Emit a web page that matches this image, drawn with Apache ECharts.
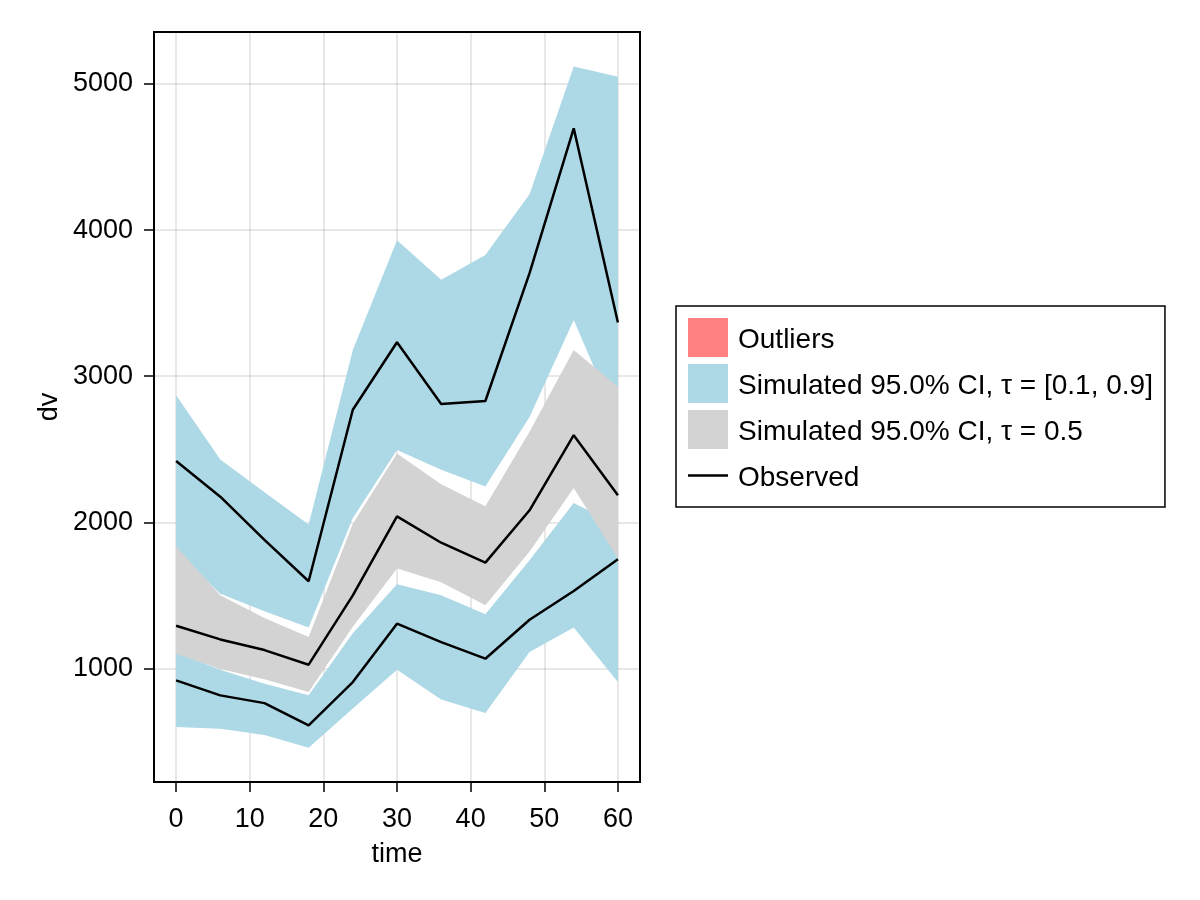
<!DOCTYPE html>
<html>
<head>
<meta charset="utf-8">
<script src="https://cdn.jsdelivr.net/npm/echarts@6/dist/echarts.min.js"></script>
<style>html,body{margin:0;padding:0;background:#fff;}#c{width:1200px;height:900px;}</style>
</head>
<body>
<div id="c"></div>
<script>
// ---- data ----
const times = [0, 6, 12, 18, 24, 30, 36, 42, 48, 54, 60];
const xTicks = [0, 10, 20, 30, 40, 50, 60];
const yTicks = [1000, 2000, 3000, 4000, 5000];

// simulated 95% CI of the 90th percentile (upper blue band)
const upperBandHi = [2870, 2430, 2205, 1985, 3180, 3930, 3660, 3830, 4245, 5120, 5050];
const upperBandLo = [1800, 1510, 1390, 1280, 2030, 2495, 2360, 2245, 2720, 3385, 2680];
// simulated 95% CI of the 10th percentile (lower blue band)
const lowerBandHi = [1110, 990, 895, 815, 1240, 1575, 1500, 1370, 1740, 2132, 1980];
const lowerBandLo = [598, 587, 543, 457, 725, 991, 786, 694, 1112, 1279, 906];
// simulated 95% CI of the median (gray band)
const medianBandHi = [1835, 1500, 1345, 1215, 1990, 2470, 2260, 2110, 2620, 3180, 2927];
const medianBandLo = [1100, 995, 925, 838, 1285, 1683, 1590, 1432, 1800, 2235, 1752];

// observed percentiles
const obsP90 = [2420, 2175, 1880, 1596, 2770, 3232, 2810, 2830, 3705, 4697, 3368];
const obsP50 = [1292, 1198, 1125, 1025, 1500, 2040, 1860, 1724, 2082, 2596, 2185];
const obsP10 = [918, 815, 762, 610, 906, 1306, 1180, 1066, 1333, 1529, 1747];

const nameOutliers = 'Outliers';
const nameBlue = 'Simulated 95.0% CI, τ = [0.1, 0.9]';
const nameGray = 'Simulated 95.0% CI, τ = 0.5';
const nameObs = 'Observed';

const BLUE = '#ADD8E6', GRAY = '#D3D3D3', RED = '#FF8080';
const FONT = 'Liberation Sans, Arial, sans-serif';

function band(name, color, lo, hi) {
  return {
    type: 'custom',
    name: name,
    itemStyle: { color: color, opacity: 1 },
    data: times.map((t, i) => [t, lo[i], hi[i]]),
    encode: { x: 0, y: [1, 2] },
    renderItem: function (params, api) {
      if (params.dataIndex !== 0) return null;
      const pts = [];
      for (let i = 0; i < times.length; i++) pts.push(api.coord([times[i], hi[i]]));
      for (let i = times.length - 1; i >= 0; i--) pts.push(api.coord([times[i], lo[i]]));
      return { type: 'polygon', shape: { points: pts }, style: { fill: color } };
    },
    animation: false
  };
}
function obsLine(vals) {
  return {
    type: 'line', name: nameObs,
    data: times.map((t, i) => [t, vals[i]]),
    symbol: 'none', showSymbol: false,
    lineStyle: { color: '#000', width: 2.5 },
    itemStyle: { color: '#000' },
    animation: false
  };
}

const chart = echarts.init(document.getElementById('c'), null, { renderer: 'canvas' });
chart.setOption({
  backgroundColor: '#fff',
  animation: false,
  textStyle: { fontFamily: FONT },
  grid: { left: 154, top: 32, width: 486, height: 750, show: true, borderColor: '#000', borderWidth: 2, backgroundColor: 'transparent' },
  xAxis: {
    type: 'value', min: -3, max: 63,
    name: 'time', nameLocation: 'middle', nameGap: 59,
    nameTextStyle: { fontSize: 27, color: '#000', fontFamily: FONT },
    axisLine: { show: true, onZero: false, lineStyle: { color: '#000', width: 2 } },
    axisTick: { show: true, inside: false, length: 10, lineStyle: { color: '#000', width: 1.5 }, customValues: xTicks },
    axisLabel: { fontSize: 27, color: '#000', margin: 24, fontFamily: FONT, customValues: xTicks, formatter: v => String(v) },
    splitLine: { show: true, lineStyle: { color: 'rgba(0,0,0,0.12)', width: 1.5 } }
  },
  yAxis: {
    type: 'value', min: 222, max: 5356,
    name: 'dv', nameLocation: 'middle', nameGap: 91,
    nameTextStyle: { fontSize: 27, color: '#000', fontFamily: FONT },
    axisLine: { show: true, onZero: false, lineStyle: { color: '#000', width: 2 } },
    axisTick: { show: true, inside: false, length: 10, lineStyle: { color: '#000', width: 1.5 }, customValues: yTicks },
    axisLabel: { fontSize: 27, color: '#000', margin: 21, fontFamily: FONT, customValues: yTicks, formatter: v => String(v) },
    splitLine: { show: true, lineStyle: { color: 'rgba(0,0,0,0.12)', width: 1.5 } }
  },
  legend: {
    orient: 'vertical', left: 676, top: 306,
    padding: 12, itemWidth: 40, itemHeight: 39, itemGap: 7,
    borderColor: '#000', borderWidth: 1.5, backgroundColor: '#fff',
    selectedMode: false,
    formatter: '{t|{name}}',
    textStyle: {
      fontSize: 28, color: '#000', fontFamily: FONT, padding: [0, 0, 0, 5],
      rich: { t: { fontSize: 28, color: '#000', fontFamily: FONT, padding: [6, 0, 0, 0] } }
    },
    data: [
      { name: nameOutliers, icon: 'rect', itemStyle: { color: RED, opacity: 1 } },
      { name: nameBlue, icon: 'rect' },
      { name: nameGray, icon: 'rect' },
      { name: nameObs, icon: 'path://M0,0L0.01,0L0.01,0.01Z M0,18.25L40,18.25L40,20.75L0,20.75Z M39.99,39L40,39L40,38.99Z', itemStyle: { color: '#000' } }
    ]
  },
  series: [
    { type: 'scatter', name: nameOutliers, data: [], itemStyle: { color: RED, opacity: 1 } },
    band(nameBlue, BLUE, upperBandLo, upperBandHi),
    band(nameBlue, BLUE, lowerBandLo, lowerBandHi),
    band(nameGray, GRAY, medianBandLo, medianBandHi),
    obsLine(obsP90),
    obsLine(obsP50),
    obsLine(obsP10)
  ]
});
</script>
</body>
</html>
